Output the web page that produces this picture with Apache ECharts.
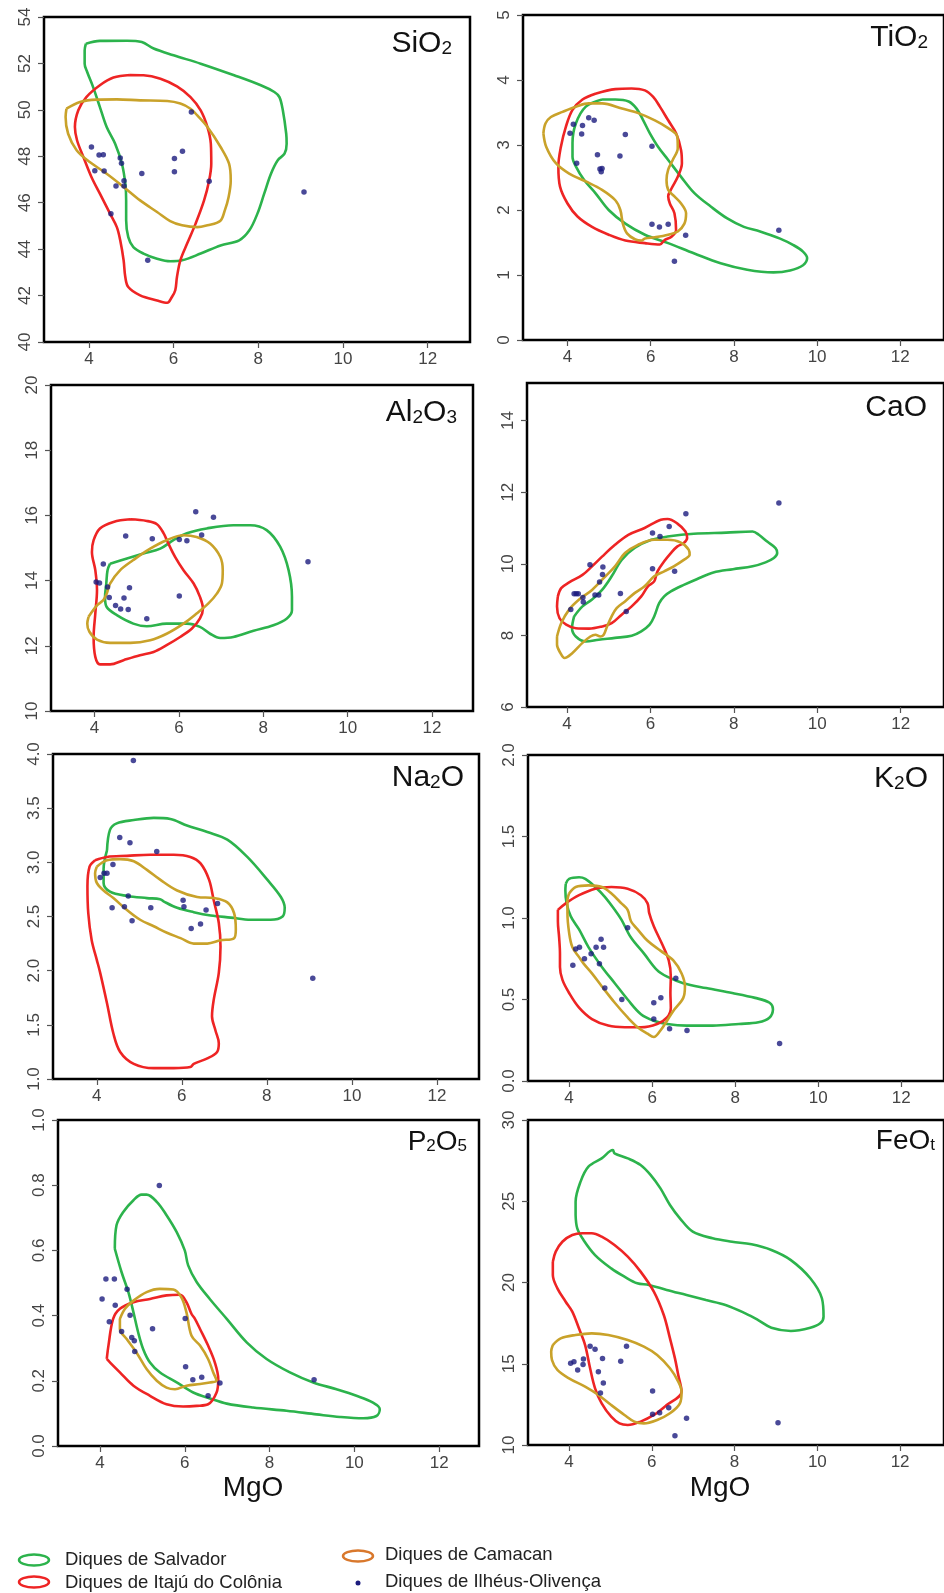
<!DOCTYPE html>
<html><head><meta charset="utf-8">
<script src="https://cdn.jsdelivr.net/npm/echarts@6/dist/echarts.min.js"></script>
<style>html,body{margin:0;padding:0;background:#fff}#c{width:944px;height:1593px}</style>
</head><body><div id="c"></div>
<script>
// ---------- DATA ----------
const groupNames = ['Diques de Salvador','Diques de Itajú do Colônia','Diques de Camacan','Diques de Ilhéus-Olivença'];
const mgoTicks = [4,6,8,10,12];
const sio2Ticks = [40,42,44,46,48,50,52,54];
const tio2Ticks = [0,1,2,3,4,5];
const al2o3Ticks = [10,12,14,16,18,20];
const caoTicks = [6,8,10,12,14];
const na2oTicks = [1.0,1.5,2.0,2.5,3.0,3.5,4.0];
const k2oTicks = [0.0,0.5,1.0,1.5,2.0];
const p2o5Ticks = [0.0,0.2,0.4,0.6,0.8,1.0];
const feotTicks = [10,15,20,25,30];

const sio2Salvador = [[3.93,52.85],[4.26,52.97],[4.90,52.98],[5.25,52.92],[5.53,52.64],[6.00,52.35],[6.64,51.99],[7.43,51.49],[8.06,51.06],[8.38,50.77],[8.50,50.55],[8.58,49.98],[8.66,48.97],[8.67,48.54],[8.62,48.11],[8.46,47.83],[8.30,47.25],[8.14,46.39],[7.98,45.53],[7.79,44.81],[7.55,44.38],[7.11,44.16],[6.64,43.81],[6.20,43.52],[5.92,43.48],[5.61,43.59],[5.29,43.81],[5.05,44.09],[4.93,44.52],[4.88,45.24],[4.88,46.10],[4.86,46.82],[4.78,47.68],[4.62,48.54],[4.42,49.26],[4.26,50.12],[4.10,50.98],[3.96,51.63],[3.90,51.99],[3.90,52.56]];
const sio2Itaju = [[4.97,51.50],[4.58,51.39],[4.26,51.06],[3.94,50.55],[3.75,49.98],[3.67,49.26],[3.72,48.69],[3.87,47.97],[4.06,47.11],[4.26,46.39],[4.50,45.53],[4.66,44.95],[4.74,44.38],[4.82,43.52],[4.86,42.80],[4.93,42.37],[5.21,42.01],[5.61,41.79],[5.85,41.69],[5.96,41.94],[6.04,42.23],[6.08,42.80],[6.16,43.52],[6.32,44.24],[6.52,45.10],[6.72,46.10],[6.84,46.96],[6.89,47.68],[6.88,48.54],[6.80,49.26],[6.64,49.98],[6.40,50.55],[6.08,51.01],[5.69,51.34],[5.29,51.49]];
const sio2Camacan = [[3.47,50.05],[3.79,50.34],[4.18,50.44],[4.66,50.45],[5.21,50.41],[5.85,50.38],[6.16,50.27],[6.40,50.05],[6.56,49.76],[6.80,49.26],[7.11,48.40],[7.31,47.68],[7.35,46.96],[7.30,46.25],[7.21,45.67],[7.10,45.21],[6.80,45.03],[6.56,44.95],[6.20,45.03],[5.92,45.21],[5.61,45.60],[5.21,46.10],[4.82,46.68],[4.42,47.25],[4.02,47.75],[3.71,48.26],[3.51,48.97],[3.45,49.69]];
const sio2Ilheus = [[4.06,48.40],[4.14,47.38],[4.24,48.06],[4.34,48.07],[4.36,47.37],[4.52,45.53],[4.64,46.72],[4.74,47.93],[4.77,47.70],[4.83,46.72],[4.83,46.95],[5.25,47.26],[5.39,43.52],[6.02,47.90],[6.02,47.33],[6.21,48.22],[6.42,49.91],[6.84,46.93],[9.08,46.46]];

const tio2Salvador = [[4.83,3.70],[4.44,3.59],[4.20,3.33],[4.12,3.03],[4.12,2.82],[4.20,2.67],[4.40,2.46],[4.67,2.26],[4.99,2.00],[5.39,1.79],[5.86,1.62],[6.42,1.49],[7.05,1.33],[7.68,1.18],[8.32,1.08],[8.95,1.04],[9.35,1.07],[9.66,1.15],[9.76,1.26],[9.66,1.36],[9.43,1.46],[9.11,1.56],[8.63,1.67],[8.24,1.74],[7.84,1.87],[7.45,2.05],[7.05,2.26],[6.73,2.51],[6.42,2.77],[6.18,2.97],[5.98,3.18],[5.82,3.38],[5.66,3.56],[5.47,3.67],[5.15,3.70]];
const tio2Itaju = [[4.67,3.79],[4.36,3.70],[4.12,3.54],[3.96,3.28],[3.84,2.97],[3.78,2.67],[3.82,2.36],[4.00,2.10],[4.24,1.90],[4.59,1.74],[4.99,1.62],[5.39,1.53],[5.86,1.49],[6.22,1.47],[6.34,1.54],[6.50,1.59],[6.61,1.69],[6.57,1.95],[6.46,2.10],[6.42,2.21],[6.50,2.33],[6.65,2.51],[6.75,2.72],[6.73,2.92],[6.61,3.18],[6.42,3.38],[6.22,3.59],[6.06,3.74],[5.86,3.84],[5.54,3.87],[5.15,3.86]];
const tio2Camacan = [[3.42,3.18],[3.49,2.97],[3.72,2.72],[4.04,2.56],[4.44,2.44],[4.83,2.31],[5.15,2.15],[5.27,2.00],[5.33,1.79],[5.43,1.64],[5.62,1.55],[5.78,1.53],[5.86,1.56],[6.10,1.58],[6.42,1.62],[6.65,1.67],[6.81,1.79],[6.85,1.95],[6.73,2.10],[6.57,2.21],[6.42,2.31],[6.38,2.46],[6.42,2.62],[6.53,2.77],[6.65,2.95],[6.64,3.13],[6.42,3.26],[6.10,3.38],[5.70,3.49],[5.31,3.56],[4.83,3.64],[4.51,3.64],[4.20,3.59],[3.88,3.51],[3.60,3.43],[3.47,3.33]];
const tio2Ilheus = [[4.06,3.18],[4.14,3.32],[4.22,2.72],[4.34,3.17],[4.36,3.30],[4.51,3.42],[4.64,3.38],[4.72,2.85],[4.78,2.63],[4.83,2.64],[4.81,2.59],[5.26,2.83],[5.39,3.16],[6.03,2.98],[6.03,1.78],[6.21,1.74],[6.42,1.78],[6.57,1.21],[6.84,1.61],[9.08,1.69]];

const al2o3Salvador = [[4.37,14.52],[4.77,14.68],[5.16,14.83],[5.56,14.98],[5.87,15.24],[6.19,15.45],[6.66,15.60],[7.29,15.70],[7.69,15.70],[8.08,15.55],[8.40,15.04],[8.60,14.32],[8.68,13.50],[8.68,13.09],[8.56,12.84],[8.24,12.63],[7.77,12.46],[7.29,12.27],[6.98,12.24],[6.74,12.37],[6.50,12.58],[6.19,12.68],[5.71,12.68],[5.24,12.60],[4.92,12.68],[4.53,12.94],[4.29,13.19],[4.25,13.50],[4.28,13.91],[4.31,14.32]];
const al2o3Itaju = [[4.85,15.88],[4.45,15.80],[4.13,15.60],[3.98,15.24],[3.94,14.88],[4.02,14.32],[4.06,13.71],[4.02,12.99],[3.98,12.27],[4.02,11.66],[4.13,11.43],[4.37,11.43],[4.69,11.56],[5.08,11.71],[5.40,11.81],[5.71,12.02],[6.03,12.27],[6.31,12.53],[6.50,12.84],[6.57,13.14],[6.50,13.50],[6.35,13.91],[6.11,14.32],[5.91,14.73],[5.75,15.14],[5.64,15.45],[5.48,15.73],[5.24,15.83]];
const al2o3Camacan = [[3.86,12.89],[4.06,13.24],[4.21,13.40],[4.29,13.60],[4.37,13.91],[4.61,14.32],[4.92,14.63],[5.32,14.98],[5.71,15.24],[6.11,15.39],[6.42,15.34],[6.74,15.14],[6.98,14.73],[7.04,14.32],[7.02,13.91],[6.90,13.60],[6.70,13.30],[6.42,12.99],[6.11,12.68],[5.71,12.37],[5.32,12.17],[4.85,12.09],[4.37,12.09],[4.06,12.19],[3.88,12.43],[3.83,12.68]];
const al2o3Ilheus = [[4.04,13.96],[4.12,13.93],[4.21,14.51],[4.31,13.80],[4.35,13.48],[4.50,13.24],[4.62,13.13],[4.70,13.47],[4.74,15.37],[4.80,13.11],[4.83,13.78],[5.24,12.83],[5.37,15.28],[6.01,13.53],[6.01,15.26],[6.19,15.22],[6.40,16.11],[6.54,15.40],[6.82,15.94],[9.06,14.58]];

const caoSalvador = [[4.17,8.53],[4.37,8.81],[4.60,9.00],[4.84,9.27],[5.07,9.65],[5.31,10.11],[5.62,10.44],[6.02,10.67],[6.41,10.76],[7.04,10.84],[7.82,10.87],[8.45,10.90],[8.60,10.81],[8.80,10.62],[9.00,10.44],[9.04,10.30],[8.96,10.16],[8.76,10.04],[8.45,9.93],[7.98,9.85],[7.51,9.76],[7.11,9.57],[6.80,9.41],[6.49,9.23],[6.33,9.09],[6.21,8.90],[6.09,8.53],[5.98,8.30],[5.78,8.11],[5.55,7.99],[5.15,7.93],[4.76,7.88],[4.45,7.83],[4.21,7.97],[4.12,8.20]];
const caoItaju = [[3.78,9.09],[3.86,9.32],[4.05,9.48],[4.37,9.69],[4.60,9.93],[4.84,10.20],[5.15,10.53],[5.47,10.81],[5.86,11.00],[6.25,11.23],[6.41,11.25],[6.64,11.13],[6.84,10.90],[6.88,10.72],[6.80,10.58],[6.64,10.48],[6.49,10.30],[6.33,10.07],[6.17,9.79],[6.09,9.51],[5.94,9.37],[5.78,9.09],[5.55,8.81],[5.31,8.58],[5.07,8.34],[4.84,8.25],[4.53,8.19],[4.21,8.20],[3.98,8.30],[3.82,8.48],[3.76,8.81]];
const caoCamacan = [[3.76,7.97],[3.86,8.34],[4.05,8.72],[4.29,9.00],[4.60,9.27],[4.92,9.65],[5.15,9.93],[5.39,10.30],[5.70,10.53],[6.09,10.67],[6.41,10.67],[6.72,10.60],[6.92,10.39],[6.94,10.25],[6.80,10.11],[6.56,9.93],[6.33,9.79],[6.09,9.65],[5.86,9.37],[5.62,9.18],[5.39,8.95],[5.19,8.76],[5.07,8.53],[4.96,8.25],[4.88,8.02],[4.80,7.97],[4.68,8.02],[4.56,7.97],[4.37,7.79],[4.13,7.51],[3.94,7.37],[3.84,7.51],[3.76,7.74]];
const caoIlheus = [[4.09,8.72],[4.17,9.16],[4.22,9.16],[4.27,9.16],[4.38,9.06],[4.39,8.93],[4.55,9.97],[4.67,9.13],[4.76,9.13],[4.78,9.49],[4.85,9.70],[4.86,9.91],[5.28,9.17],[5.42,8.67],[6.05,10.86],[6.05,9.86],[6.23,10.76],[6.45,11.04],[6.58,9.79],[6.85,11.40],[9.08,11.70]];

const na2oSalvador = [[4.24,3.11],[4.31,3.30],[4.47,3.36],[4.87,3.39],[5.34,3.41],[5.73,3.40],[6.12,3.34],[6.60,3.28],[7.07,3.21],[7.54,3.05],[8.01,2.84],[8.33,2.68],[8.42,2.58],[8.37,2.50],[8.09,2.47],[7.62,2.47],[7.15,2.49],[6.68,2.51],[6.28,2.54],[5.89,2.58],[5.57,2.64],[5.49,2.66],[5.18,2.67],[4.71,2.69],[4.31,2.73],[4.16,2.81],[4.16,2.94]];
const na2oItaju = [[3.96,3.02],[4.24,3.05],[4.71,3.06],[5.26,3.07],[5.81,3.07],[6.20,3.05],[6.44,2.99],[6.64,2.84],[6.75,2.65],[6.87,2.44],[6.91,2.22],[6.87,1.98],[6.75,1.73],[6.71,1.58],[6.79,1.45],[6.87,1.33],[6.83,1.25],[6.60,1.19],[6.28,1.14],[6.20,1.11],[5.81,1.10],[5.34,1.10],[4.87,1.14],[4.55,1.25],[4.39,1.42],[4.24,1.70],[4.08,1.98],[4.00,2.10],[3.88,2.28],[3.80,2.53],[3.78,2.78],[3.83,2.96]];
const na2oCamacan = [[4.00,2.96],[4.24,3.02],[4.55,3.03],[4.87,3.01],[5.18,2.93],[5.49,2.84],[5.89,2.74],[6.36,2.68],[6.75,2.67],[7.07,2.63],[7.23,2.53],[7.27,2.38],[7.23,2.30],[6.91,2.28],[6.60,2.25],[6.28,2.25],[5.97,2.30],[5.65,2.35],[5.34,2.41],[5.02,2.47],[4.71,2.56],[4.39,2.67],[4.16,2.74],[4.00,2.81],[3.96,2.90]];
const na2oIlheus = [[4.08,2.86],[4.17,2.90],[4.24,2.90],[4.38,2.98],[4.36,2.58],[4.54,3.23],[4.65,2.59],[4.74,2.69],[4.78,3.18],[4.83,2.46],[4.86,3.94],[5.27,2.58],[5.41,3.10],[6.03,2.65],[6.05,2.59],[6.22,2.39],[6.44,2.43],[6.57,2.56],[6.84,2.62],[9.08,1.93]];

const k2oSalvador = [[3.92,1.21],[4.00,1.24],[4.24,1.25],[4.39,1.24],[4.63,1.19],[4.86,1.13],[5.10,1.05],[5.26,0.99],[5.49,0.88],[5.81,0.78],[6.12,0.68],[6.36,0.64],[6.75,0.60],[7.30,0.57],[7.93,0.54],[8.48,0.51],[8.83,0.48],[8.91,0.44],[8.83,0.39],[8.56,0.36],[8.09,0.35],[7.46,0.34],[6.83,0.34],[6.36,0.35],[6.04,0.37],[5.73,0.41],[5.41,0.50],[5.10,0.60],[4.79,0.70],[4.47,0.82],[4.24,0.93],[4.04,1.01],[3.94,1.09],[3.91,1.17]];
const k2oItaju = [[3.73,1.05],[3.92,1.09],[4.24,1.14],[4.63,1.18],[5.02,1.19],[5.41,1.18],[5.73,1.14],[5.89,1.09],[5.93,1.03],[6.04,0.95],[6.24,0.84],[6.40,0.74],[6.45,0.64],[6.44,0.54],[6.45,0.45],[6.36,0.39],[6.12,0.35],[5.73,0.33],[5.34,0.33],[4.94,0.34],[4.55,0.38],[4.24,0.45],[4.00,0.54],[3.84,0.62],[3.78,0.70],[3.78,0.78],[3.76,0.88],[3.73,0.98]];
const k2oCamacan = [[4.00,1.15],[4.16,1.19],[4.47,1.20],[4.79,1.19],[5.02,1.15],[5.26,1.09],[5.41,1.05],[5.49,0.98],[5.65,0.93],[5.89,0.86],[6.20,0.80],[6.51,0.74],[6.71,0.66],[6.79,0.58],[6.75,0.51],[6.51,0.43],[6.36,0.37],[6.20,0.31],[6.04,0.27],[5.89,0.29],[5.65,0.33],[5.41,0.39],[5.10,0.48],[4.79,0.58],[4.55,0.66],[4.35,0.72],[4.24,0.76],[4.08,0.82],[4.00,0.91],[3.96,1.03],[3.96,1.11]];
const k2oIlheus = [[4.09,0.71],[4.16,0.81],[4.25,0.82],[4.37,0.75],[4.53,0.78],[4.65,0.82],[4.73,0.72],[4.77,0.87],[4.83,0.82],[4.86,0.57],[5.27,0.50],[5.41,0.94],[6.04,0.48],[6.04,0.38],[6.21,0.51],[6.42,0.32],[6.57,0.63],[6.84,0.31],[9.07,0.23]];

const p2o5Salvador = [[4.35,0.605],[4.39,0.677],[4.55,0.718],[4.79,0.754],[4.98,0.771],[5.10,0.771],[5.34,0.749],[5.57,0.708],[5.81,0.656],[6.00,0.600],[6.08,0.554],[6.28,0.503],[6.59,0.451],[6.99,0.390],[7.46,0.318],[7.93,0.267],[8.48,0.226],[9.03,0.195],[9.58,0.174],[10.05,0.154],[10.44,0.133],[10.60,0.113],[10.52,0.092],[10.21,0.085],[9.66,0.089],[9.11,0.097],[8.40,0.108],[7.61,0.118],[6.99,0.130],[6.59,0.146],[6.20,0.164],[5.81,0.195],[5.41,0.226],[5.18,0.256],[5.02,0.297],[4.90,0.349],[4.79,0.410],[4.67,0.472],[4.51,0.533]];
const p2o5Itaju = [[4.16,0.267],[4.20,0.308],[4.31,0.390],[4.47,0.421],[4.79,0.441],[5.18,0.451],[5.57,0.462],[5.89,0.464],[6.04,0.441],[6.16,0.405],[6.24,0.390],[6.36,0.359],[6.55,0.308],[6.71,0.256],[6.79,0.205],[6.75,0.164],[6.55,0.128],[6.28,0.123],[5.96,0.121],[5.57,0.128],[5.18,0.154],[4.79,0.185],[4.47,0.226],[4.24,0.256]];
const p2o5Camacan = [[4.47,0.390],[4.59,0.421],[4.79,0.446],[5.10,0.472],[5.41,0.482],[5.73,0.480],[5.92,0.456],[6.04,0.410],[6.16,0.338],[6.36,0.308],[6.55,0.267],[6.67,0.226],[6.75,0.200],[6.59,0.195],[6.36,0.190],[6.04,0.185],[5.77,0.174],[5.57,0.179],[5.34,0.200],[5.10,0.236],[4.86,0.287],[4.63,0.328],[4.47,0.359]];
const p2o5Ilheus = [[4.05,0.451],[4.14,0.512],[4.22,0.381],[4.34,0.512],[4.36,0.432],[4.51,0.351],[4.64,0.481],[4.71,0.401],[4.75,0.333],[4.81,0.323],[4.82,0.290],[5.24,0.360],[5.40,0.799],[6.01,0.391],[6.02,0.243],[6.19,0.203],[6.40,0.211],[6.55,0.154],[6.83,0.193],[9.05,0.203]];

const feotSalvador = [[4.16,24.15],[4.16,24.97],[4.28,26.21],[4.47,27.13],[4.79,27.64],[5.06,28.15],[5.10,27.95],[5.42,27.64],[5.73,27.23],[5.97,26.62],[6.21,25.79],[6.44,24.77],[6.68,23.95],[6.99,23.13],[7.47,22.72],[7.94,22.51],[8.41,22.35],[8.89,22.00],[9.36,21.38],[9.83,20.26],[10.11,19.03],[10.15,17.90],[10.07,17.49],[9.83,17.22],[9.36,17.02],[8.89,17.22],[8.57,17.69],[8.26,18.10],[7.78,18.62],[7.31,18.92],[6.84,19.23],[6.36,19.54],[5.93,19.85],[5.65,19.95],[5.34,20.36],[5.02,20.87],[4.63,21.69],[4.35,22.62],[4.20,23.33]];
const feotItaju = [[3.61,21.28],[3.68,21.90],[3.84,22.51],[4.08,22.92],[4.32,23.03],[4.55,23.03],[4.79,22.82],[5.10,22.31],[5.42,21.59],[5.73,20.67],[6.05,19.44],[6.29,18.00],[6.44,16.56],[6.56,15.33],[6.64,14.31],[6.72,13.28],[6.36,12.46],[6.05,11.85],[5.73,11.44],[5.42,11.23],[5.22,11.33],[5.02,11.74],[4.79,12.56],[4.63,13.49],[4.51,14.72],[4.39,16.15],[4.24,17.18],[4.08,18.21],[3.92,18.82],[3.72,19.64],[3.61,20.46]];
const feotCamacan = [[3.61,16.15],[3.80,16.56],[4.16,16.77],[4.55,16.87],[4.95,16.77],[5.42,16.46],[5.81,16.05],[6.13,15.54],[6.44,14.72],[6.64,13.90],[6.72,13.28],[6.68,12.56],[6.44,11.95],[6.13,11.54],[5.81,11.33],[5.58,11.44],[5.34,11.85],[5.02,12.46],[4.71,13.08],[4.39,13.59],[4.00,14.10],[3.72,14.62],[3.59,15.23],[3.57,15.74]];
const feotIlheus = [[4.04,15.03],[4.12,15.13],[4.21,14.62],[4.34,14.96],[4.35,15.29],[4.51,16.07],[4.63,15.89],[4.71,14.51],[4.76,13.20],[4.81,15.33],[4.83,13.82],[5.25,15.15],[5.39,16.07],[6.02,13.32],[6.02,11.89],[6.19,11.99],[6.41,12.30],[6.56,10.57],[6.84,11.64],[9.05,11.37]];

// ---------- LAYOUT / STYLE ----------
const COLORS = ['#2cb34c', '#ee2424', '#c9a22a'];
const DOT = '#1c1c7e';
const FONT = '"Liberation Sans", Arial, sans-serif';

const panels = [
  {label:'{m|SiO}{s|2}', lx:452, ly:44, fs:30, grid:{left:44, top:17, width:426, height:325}, xr:[2.94,13.0], yr:[40,54], ticks:sio2Ticks, dec:0, sets:[sio2Salvador, sio2Itaju, sio2Camacan, sio2Ilheus]},
  {label:'{m|TiO}{s|2}', lx:928, ly:38, fs:30, grid:{left:523, top:15, width:428, height:325}, xr:[2.93,13.05], yr:[0,5], ticks:tio2Ticks, dec:0, sets:[tio2Salvador, tio2Itaju, tio2Camacan, tio2Ilheus]},
  {label:'{m|Al}{s|2}{m|O}{s|3}', lx:457, ly:413, fs:30, grid:{left:51, top:385, width:422, height:326}, xr:[2.97,12.97], yr:[10,20], ticks:al2o3Ticks, dec:0, sets:[al2o3Salvador, al2o3Itaju, al2o3Camacan, al2o3Ilheus]},
  {label:'{m|CaO}', lx:927, ly:408, fs:30, grid:{left:527, top:383, width:425, height:324}, xr:[3.04,13.04], yr:[6,15.05], ticks:caoTicks, dec:0, sets:[caoSalvador, caoItaju, caoCamacan, caoIlheus]},
  {label:'{m|Na}{s|2}{m|O}', lx:464, ly:778, fs:30, grid:{left:53, top:754, width:426, height:325}, xr:[2.97,12.99], yr:[1,4], ticks:na2oTicks, dec:1, sets:[na2oSalvador, na2oItaju, na2oCamacan, na2oIlheus]},
  {label:'{m|K}{s|2}{m|O}', lx:928, ly:779, fs:30, grid:{left:528, top:755, width:425, height:326}, xr:[3.01,13.03], yr:[0,2], ticks:k2oTicks, dec:1, sets:[k2oSalvador, k2oItaju, k2oCamacan, k2oIlheus]},
  {label:'{m|P}{s|2}{m|O}{s|5}', lx:467, ly:1142, fs:28, grid:{left:58, top:1120, width:421, height:326}, xr:[3.01,12.94], yr:[0,1], ticks:p2o5Ticks, dec:1, sets:[p2o5Salvador, p2o5Itaju, p2o5Camacan, p2o5Ilheus]},
  {label:'{m|FeO}{s|t}', lx:935, ly:1141, fs:28, grid:{left:528, top:1120, width:425, height:325}, xr:[3.01,13.06], yr:[10,30], ticks:feotTicks, dec:0, sets:[feotSalvador, feotItaju, feotCamacan, feotIlheus]}
];

const grids = [], xAxes = [], yAxes = [], series = [], graphics = [];
panels.forEach((p, i) => {
  grids.push(Object.assign({show:true, borderColor:'#000', borderWidth:2.5, backgroundColor:'transparent', containLabel:false}, p.grid));
  xAxes.push({
    type:'value', gridIndex:i, min:p.xr[0], max:p.xr[1],
    axisLine:{show:false}, splitLine:{show:false},
    axisTick:{show:true, length:6, customValues:mgoTicks, lineStyle:{color:'#555', width:1.2}},
    axisLabel:{customValues:mgoTicks, fontSize:17, color:'#444', margin:9, fontFamily:FONT}
  });
  yAxes.push({
    type:'value', gridIndex:i, min:p.yr[0], max:p.yr[1],
    axisLine:{show:false}, splitLine:{show:false},
    axisTick:{show:true, length:6, customValues:p.ticks, lineStyle:{color:'#555', width:1.2}},
    axisLabel:{customValues:p.ticks, rotate:90, fontSize:17, color:'#444', margin:10, fontFamily:FONT,
      formatter:(v)=>Number(v).toFixed(p.dec)}
  });
  for (let g = 0; g < 3; g++) {
    const d = p.sets[g];
    series.push({
      name:groupNames[g], type:'line', xAxisIndex:i, yAxisIndex:i,
      data:d.concat([d[0]]), smooth:0.35, symbol:'none', silent:true, animation:false,
      lineStyle:{color:COLORS[g], width:2.6}, z:2+g
    });
  }
  series.push({
    name:groupNames[3], type:'scatter', xAxisIndex:i, yAxisIndex:i,
    data:p.sets[3], symbolSize:5.5, itemStyle:{color:DOT}, silent:true, animation:false, z:10
  });
  graphics.push({
    type:'text', x:p.lx, y:p.ly,
    style:{text:p.label, align:'right', verticalAlign:'middle',
      rich:{
        m:{fontSize:p.fs, fontFamily:FONT, fill:'#111', color:'#111', lineHeight:p.fs, verticalAlign:'bottom'},
        s:{fontSize:Math.round(p.fs*0.62), fontFamily:FONT, fill:'#111', color:'#111', verticalAlign:'bottom', padding:[0,0,1,0]}
      }}
  });
});

// MgO axis titles
graphics.push({type:'text', x:253, y:1488, style:{text:'MgO', font:'28px ' + FONT, fill:'#111', align:'center', verticalAlign:'middle'}});
graphics.push({type:'text', x:720, y:1488, style:{text:'MgO', font:'28px ' + FONT, fill:'#111', align:'center', verticalAlign:'middle'}});

// legend
const legendItems = [
  {kind:'ring', color:'#2cb34c', cx:34, cy:1560, tx:65, ty:1560, text:groupNames[0]},
  {kind:'ring', color:'#ee2424', cx:34, cy:1582, tx:65, ty:1583, text:groupNames[1]},
  {kind:'ring', color:'#d9782c', cx:358, cy:1556, tx:385, ty:1555, text:groupNames[2]},
  {kind:'dot', color:DOT, cx:358, cy:1583, tx:385, ty:1582, text:groupNames[3]}
];
legendItems.forEach(it => {
  if (it.kind === 'ring') {
    graphics.push({type:'ellipse', shape:{cx:it.cx, cy:it.cy, rx:15, ry:5.5}, style:{fill:'none', stroke:it.color, lineWidth:2.5}});
  } else {
    graphics.push({type:'circle', shape:{cx:it.cx, cy:it.cy, r:2.5}, style:{fill:it.color}});
  }
  graphics.push({type:'text', x:it.tx, y:it.ty, style:{text:it.text, font:'18.5px ' + FONT, fill:'#222', align:'left', verticalAlign:'middle'}});
});

const chart = echarts.init(document.getElementById('c'), null, {renderer:'canvas'});
chart.setOption({
  animation:false,
  backgroundColor:'#fff',
  grid:grids, xAxis:xAxes, yAxis:yAxes, series:series,
  graphic:graphics
});
</script>
</body></html>
